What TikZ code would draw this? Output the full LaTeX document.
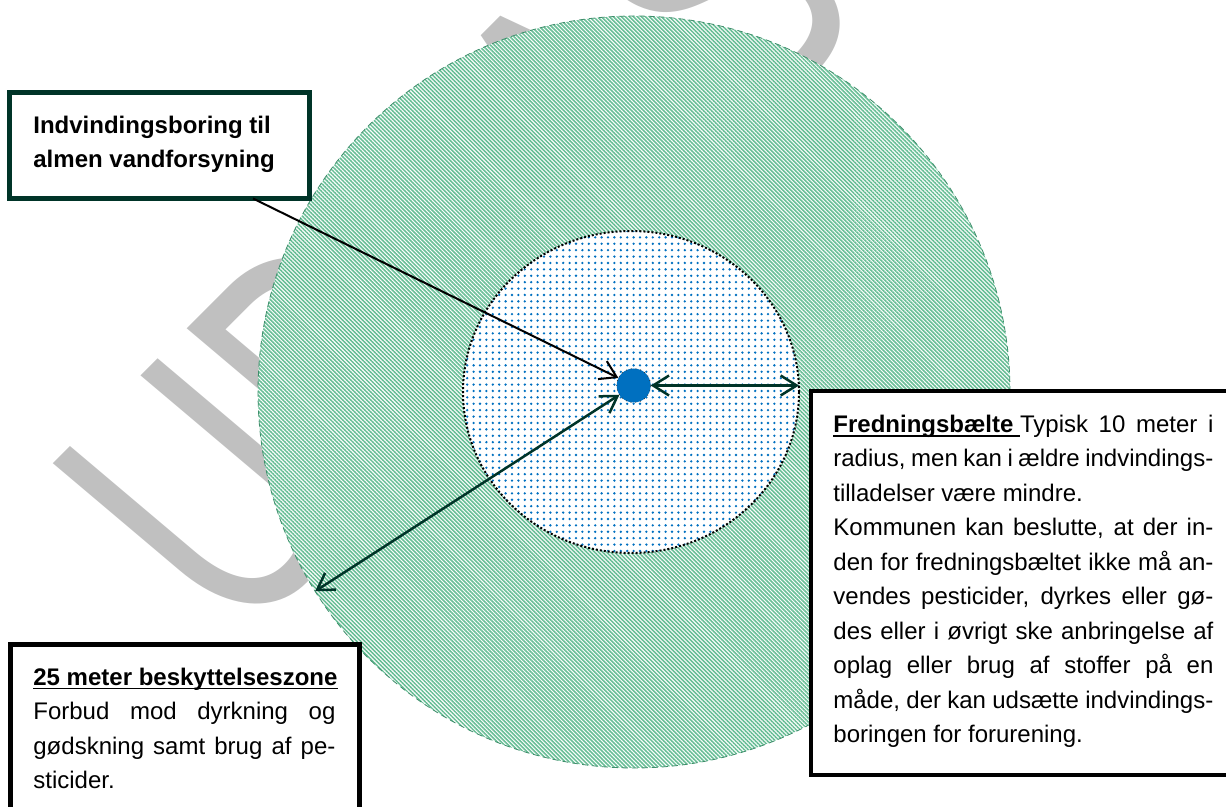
\documentclass[tikz,border=0pt]{standalone}
\usepackage{fontspec}
\setmainfont{Liberation Sans}
\usetikzlibrary{arrows.meta,shapes.geometric,patterns.meta}

\definecolor{hatchgreen}{RGB}{104,190,150}
\definecolor{zoneedge}{RGB}{62,142,107}
\definecolor{wellblue}{RGB}{0,112,192}
\definecolor{darkgreen}{RGB}{0,52,40}
\definecolor{wmgray}{RGB}{192,192,192}

\newcommand{\ulword}[2][-2.4pt]{\setbox0\hbox{#2}\rlap{\rule[#1]{\wd0}{0.8pt}}\box0}
\newcommand{\jline}[2]{\makebox[#1][s]{#2}}

\begin{document}
\begin{tikzpicture}[x=0.5pt,y=-0.5pt,
		zonetext/.style={inner sep=0pt, anchor=north west, align=left, font=\fontsize{12pt}{17.25pt}\selectfont},
		framebox/.style={draw, rectangle, fill=white, inner sep=0pt, outer sep=0pt, anchor=north west},
		dimarrow/.style={{Straight Barb[length=8pt,width=10pt]}-{Straight Barb[length=8pt,width=10pt]}, darkgreen, line width=1.25pt},
		callout/.style={-{Straight Barb[length=8pt,width=10pt]}, black, line width=1pt},
		watermark/.style={transform shape, text=wmgray, inner sep=0pt, anchor=base west,
			font=\fontsize{100pt}{100pt}\selectfont}]
		\useasboundingbox (0,0) rectangle (1226,807);
		\clip (0,0) rectangle (1226,807);
		% watermark
		\begin{scope}[shift={(238,646.7)}, cm={0.923,0.924,-1.45,1.225,(0,0)}]
			\node[watermark] (draft) at (0,0) {UDKAST};
		\end{scope}
		% zones
		\node[circle, minimum size=376pt, outer sep=0pt, preaction={fill=white},
			pattern={Lines[angle=-45,distance=1.41pt,line width=0.78pt]}, pattern color=hatchgreen,
			draw=zoneedge, densely dashed, line width=0.4pt] (beskzone) at (634,392) {};
		\node[ellipse, minimum width=168pt, minimum height=161pt, outer sep=0pt, preaction={fill=white},
			pattern={Dots[distance=3.2pt,radius=0.65pt]}, pattern color=wellblue,
			draw=black, line width=1pt, dash pattern=on 1pt off 1pt] (fredzone) at (631,392) {};
		\node[circle, minimum size=17pt, outer sep=0pt, fill=wellblue, draw=black!80, dotted, line width=0.4pt] (well) at (633.7,385.5) {};
		% boxes
		\node[framebox, draw=darkgreen, line width=2.5pt, minimum width=150pt, minimum height=53pt] (indvbox) at (9.5,92.5) {};
		\node[zonetext, font=\fontsize{12pt}{17.25pt}\selectfont\bfseries] (indvtext) at (33,115.5)
			{Indvindingsboring til\\almen vandforsyning};
		\node[framebox, line width=2pt, minimum width=214.5pt, minimum height=192pt] (fredbox) at (811,391) {};
		\def\fw{190pt}
		\node[zonetext] (fredtext) at (833,414.5) {%
			\jline{\fw}{\ulword{\textbf{Fredningsbælte }}Typisk 10 meter i}\\
			\jline{\fw}{radius, men kan i ældre indvindings-}\\
			tilladelser være mindre.\\
			\jline{\fw}{Kommunen kan beslutte, at der in-}\\
			\jline{\fw}{den for fredningsbæltet ikke må an-}\\
			\jline{\fw}{vendes pesticider, dyrkes eller gø-}\\
			\jline{\fw}{des eller i øvrigt ske anbringelse af}\\
			\jline{\fw}{oplag eller brug af stoffer på en}\\
			\jline{\fw}{måde, der kan udsætte indvindings-}\\
			boringen for forurening.};
		\node[framebox, line width=2.5pt, minimum width=174.5pt, minimum height=200pt] (beskbox) at (10.5,644.5) {};
		\node[zonetext] (besktext) at (33,667.5) {%
			\ulword[-2pt]{\textbf{25 meter beskyttelseszone}}\\
			\jline{151pt}{Forbud mod dyrkning og}\\
			\jline{151pt}{gødskning samt brug af pe-}\\
			sticider.};
		% arrows
		\draw[callout] ([xshift=46.75pt]indvbox.south) -- (well);
		\draw[dimarrow] (well.east) -- (well.east -| fredzone.east);
		\draw[dimarrow] (well.213) -- (beskzone.212.5);
	\end{tikzpicture}
\end{document}
